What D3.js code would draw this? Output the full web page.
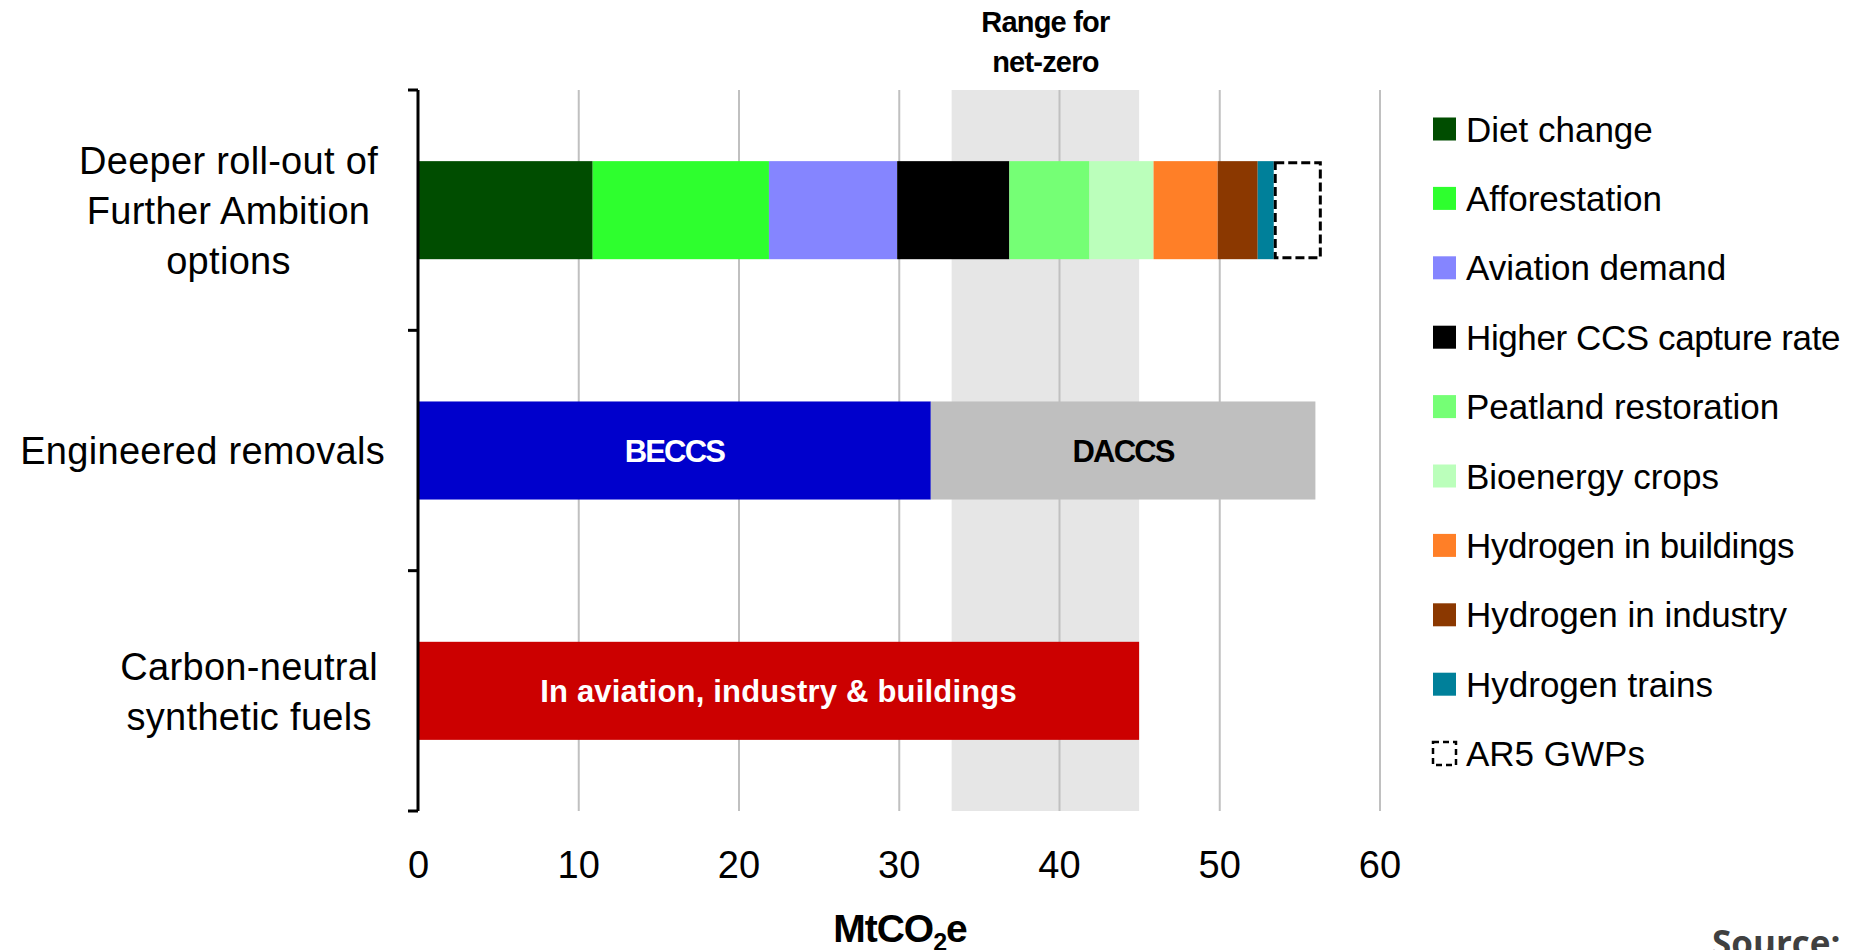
<!DOCTYPE html>
<html>
<head>
<meta charset="utf-8">
<script src="https://cdn.jsdelivr.net/npm/d3@7"></script>
<style>
  html, body { margin: 0; padding: 0; background: #fff; overflow: hidden; }
  svg { display: block; font-family: "Liberation Sans", Arial, sans-serif; }
</style>
</head>
<body>
<svg id="chart"></svg>
<script>
// categories (rows) and their wrapped label lines
const categories = ["further", "engineered", "synthetic"];
const categoryLines = [
    ["Deeper roll-out of", "Further Ambition", "options"],
    ["Engineered removals"],
    ["Carbon-neutral", "synthetic fuels"]
];

// row 1: Further Ambition options (MtCO2e)
const furtherKeys = ["Diet change", "Afforestation", "Aviation demand", "Higher CCS capture rate",
    "Peatland restoration", "Bioenergy crops", "Hydrogen in buildings", "Hydrogen in industry",
    "Hydrogen trains", "AR5 GWPs"];
const furtherValues = [10.9, 11, 8, 7, 5, 4, 4, 2.5, 1, 3];
const furtherColors = ["#004d00", "#2eff2e", "#8585ff", "#000000", "#75ff75", "#bbffbb",
    "#ff7f27", "#8b3800", "#00809a", "#ffffff"];

// row 2: engineered removals
const engineeredKeys = ["BECCS", "DACCS"];
const engineeredValues = [32, 24];
const engineeredColors = ["#0000cc", "#bfbfbf"];
const engineeredTextColors = ["#ffffff", "#000000"];

// row 3: synthetic fuels
const syntheticKeys = ["In aviation, industry & buildings"];
const syntheticValues = [45];
const syntheticColors = ["#cc0000"];
const syntheticTextColors = ["#ffffff"];

const netZeroRange = [33.3, 45];
const xTicks = [0, 10, 20, 30, 40, 50, 60];

const width = 1852, height = 950;
const margin = {top: 90, right: 472.5, bottom: 139, left: 418};
const innerWidth = width - margin.left - margin.right;
const innerHeight = height - margin.top - margin.bottom;

const svg = d3.select("#chart")
    .attr("width", width)
    .attr("height", height);

const chart = svg.append("g")
    .attr("transform", `translate(${margin.left}, ${margin.top})`);

const xscale = d3.scaleLinear()
    .domain([0, 60])
    .range([0, innerWidth]);

const yscale = d3.scaleBand()
    .domain(categories)
    .range([0, innerHeight])
    .paddingInner(0.592)
    .paddingOuter(0.296);

// shaded net-zero range
chart.append("rect")
    .attr("x", xscale(netZeroRange[0]))
    .attr("y", 0)
    .attr("width", xscale(netZeroRange[1]) - xscale(netZeroRange[0]))
    .attr("height", innerHeight)
    .attr("fill", "#e6e6e6");

// gridlines
const grid = chart.append("g")
    .call(d3.axisBottom(xscale).tickValues(xTicks.slice(1)).tickSize(innerHeight).tickFormat(""));
grid.select(".domain").remove();
grid.selectAll("line").attr("stroke", "#c0c0c0").attr("stroke-width", 2);

// build rows of stacked segments
function segments(keys, values, colors, textColors) {
    let start = 0;
    return keys.map((k, i) => {
        const seg = {key: k, x0: start, x1: start + values[i], color: colors[i],
            textColor: textColors ? textColors[i] : null};
        start += values[i];
        return seg;
    });
}
const rows = [
    {cat: "further", segs: segments(furtherKeys, furtherValues, furtherColors, null)},
    {cat: "engineered", segs: segments(engineeredKeys, engineeredValues, engineeredColors, engineeredTextColors)},
    {cat: "synthetic", segs: segments(syntheticKeys, syntheticValues, syntheticColors, syntheticTextColors)}
];

const rowGroups = chart.selectAll("g.row")
    .data(rows)
    .join("g")
    .attr("class", "row")
    .attr("transform", d => `translate(0, ${yscale(d.cat)})`);

rowGroups.selectAll("rect")
    .data(d => d.segs)
    .join("rect")
    .attr("x", d => xscale(d.x0))
    .attr("width", d => xscale(d.x1) - xscale(d.x0))
    .attr("y", 0)
    .attr("height", yscale.bandwidth())
    .attr("fill", d => d.color)
    .each(function(d) {
        if (d.key === "AR5 GWPs") {
            d3.select(this)
                .attr("x", xscale(d.x0) + 1.5)
                .attr("y", 1.5)
                .attr("width", xscale(d.x1) - xscale(d.x0) - 3)
                .attr("height", yscale.bandwidth() - 3)
                .attr("stroke", "#000")
                .attr("stroke-width", 3)
                .attr("stroke-dasharray", "9,4");
        }
    });

rowGroups.selectAll("text.barlabel")
    .data(d => d.segs.filter(s => s.textColor))
    .join("text")
    .attr("class", "barlabel")
    .attr("x", d => xscale((d.x0 + d.x1) / 2))
    .attr("y", yscale.bandwidth() / 2)
    .attr("dy", "0.36em")
    .attr("text-anchor", "middle")
    .attr("fill", d => d.textColor)
    .style("font-size", "31px")
    .style("font-weight", "bold")
    // the all-caps labels are set tight in the original
    .style("letter-spacing", d => d.key === d.key.toUpperCase() ? "-1.8px" : "0.2px")
    .text(d => d.key);

// x axis labels
const xaxis = chart.append("g")
    .attr("transform", `translate(0, ${innerHeight})`)
    .call(d3.axisBottom(xscale).tickValues(xTicks).tickSize(0).tickPadding(40));
xaxis.select(".domain").remove();
xaxis.selectAll("text")
    .attr("fill", "#000")
    .style("font-size", "38px")
    .style("font-family", "Liberation Sans, Arial, sans-serif");

// y axis: line plus ticks at category boundaries
const boundaries = [0, 1, 2, 3].map(i => i * yscale.step());
chart.append("line")
    .attr("x1", 0).attr("x2", 0)
    .attr("y1", 0).attr("y2", innerHeight)
    .attr("stroke", "#000").attr("stroke-width", 3);
chart.selectAll("line.ytick")
    .data(boundaries)
    .join("line")
    .attr("class", "ytick")
    .attr("x1", -10).attr("x2", 0)
    .attr("y1", d => d).attr("y2", d => d)
    .attr("stroke", "#000").attr("stroke-width", 3);

// category labels: block right aligned, lines centred in block
const catLabels = chart.selectAll("g.catlabel")
    .data(categories)
    .join("g")
    .attr("class", "catlabel");
catLabels.each(function(c, i) {
    const g = d3.select(this);
    const lines = categoryLines[i];
    const lineH = 50;
    const cy = yscale(c) + yscale.bandwidth() / 2;
    const texts = g.selectAll("text")
        .data(lines)
        .join("text")
        .attr("y", (d, j) => cy + (j - (lines.length - 1) / 2) * lineH)
        .attr("dy", "0.36em")
        .attr("text-anchor", "middle")
        .style("font-size", "38px")
        .style("letter-spacing", "0.3px")
        .text(d => d);
    const maxW = d3.max(texts.nodes(), n => n.getComputedTextLength());
    const right = lines.length === 1 ? -33 : -40;
    texts.attr("x", right - maxW / 2);
});

// range label
svg.append("text")
    .attr("x", margin.left + xscale((netZeroRange[0] + netZeroRange[1]) / 2))
    .attr("text-anchor", "middle")
    .style("font-size", "29px")
    .style("font-weight", "bold")
    .style("letter-spacing", "-0.8px")
    .selectAll("tspan")
    .data(["Range for", "net-zero"])
    .join("tspan")
    .attr("x", margin.left + xscale((netZeroRange[0] + netZeroRange[1]) / 2))
    .attr("y", (d, i) => 32 + i * 40)
    .text(d => d);

// x axis title
const xtitle = svg.append("text")
    .attr("x", 900)
    .attr("y", 942)
    .attr("text-anchor", "middle")
    .style("font-size", "39px")
    .style("font-weight", "bold")
    .style("letter-spacing", "-1px");
xtitle.append("tspan").text("MtCO");
xtitle.append("tspan").attr("dy", 9).style("font-size", "25px").text("2");
xtitle.append("tspan").attr("dy", -9).text("e");

// legend
const legend = svg.append("g")
    .attr("transform", "translate(1433, 129)");
const legendItems = legend.selectAll("g.legend-item")
    .data(furtherKeys)
    .join("g")
    .attr("class", "legend-item")
    .attr("transform", (d, i) => `translate(0, ${i * 69.4})`);
legendItems.append("rect")
    .attr("x", 0)
    .attr("y", -11.5)
    .attr("width", 23)
    .attr("height", 23)
    .attr("fill", (d, i) => furtherColors[i])
    .attr("stroke", d => d === "AR5 GWPs" ? "#000" : "none")
    .attr("stroke-width", 2.5)
    .attr("stroke-dasharray", d => d === "AR5 GWPs" ? "6,4" : null);
legendItems.append("text")
    .attr("x", 33)
    .attr("y", 0)
    .attr("dy", "0.36em")
    .style("font-size", "35px")
    .style("letter-spacing", d => d.length > 20 ? "-0.4px" : "0px")
    .text(d => d);

// source note, cut by the bottom edge
svg.append("text")
    .attr("x", 1712)
    .attr("y", 956)
    .style("font-family", "'Open Sans', sans-serif")
    .style("font-size", "35px")
    .style("font-weight", "bold")
    .attr("fill", "#404040")
    .text("Source:");
</script>
</body>
</html>
